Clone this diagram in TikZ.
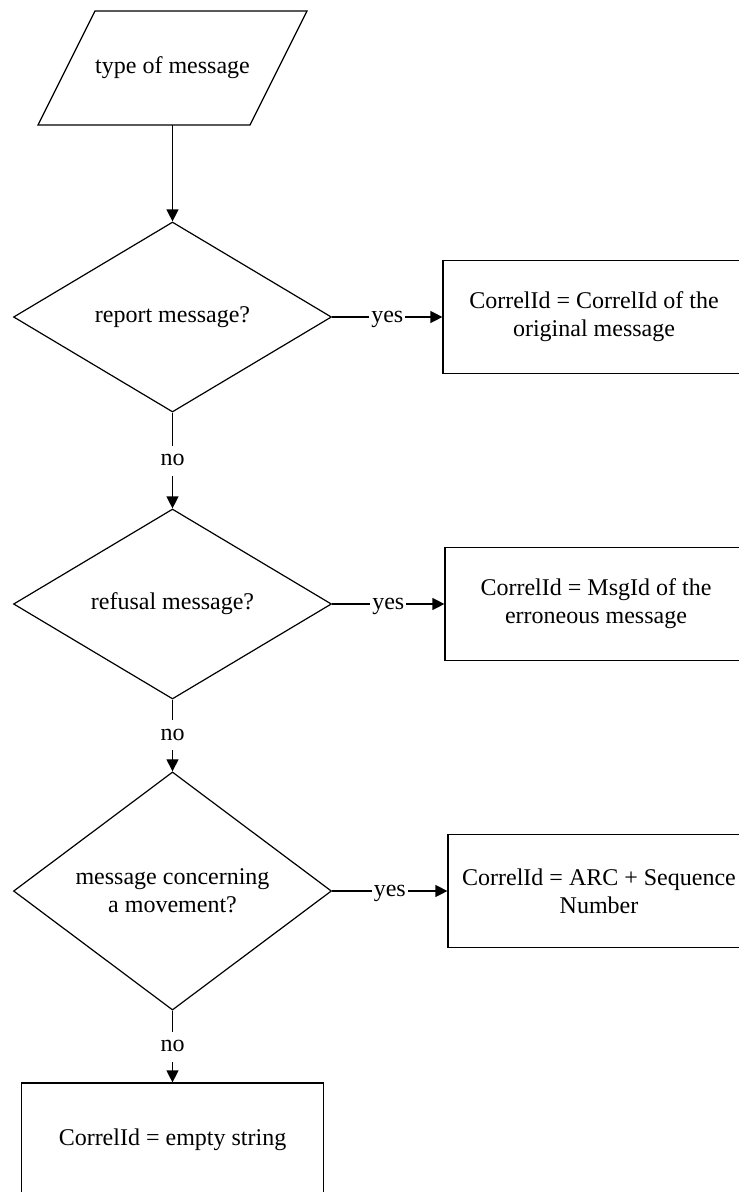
\documentclass[tikz,border=0pt]{standalone}
\usepackage{fontspec}
\setmainfont{Liberation Serif}
\usetikzlibrary{shapes.geometric,arrows.meta}
\begin{document}
\begin{tikzpicture}[x=1pt,y=-1pt,
  every node/.style={font=\fontsize{24}{28}\selectfont, inner sep=0pt},
  iotext/.style={rectangle, minimum width=212pt, minimum height=114pt},
  decision/.style={draw, diamond, minimum width=318pt, minimum height=190pt, align=center, line width=1.2pt},
  process/.style={draw, rectangle, minimum width=302pt, minimum height=113pt, align=center, line width=1.2pt},
  flow/.style={line width=1.2pt, -{Triangle[length=12pt,width=12pt]}},
  lbl/.style={fill=white, inner sep=0pt, text height=16pt, text depth=6pt, inner xsep=2pt, inner ysep=4pt}
]
\useasboundingbox (0,0) rectangle (739,1192);
\node[iotext] (in) at (172.5,68) {type of message};
\draw[line width=1.2pt] (95,11) -- (307,11) -- (250,125) -- (38,125) -- cycle;
\node[decision] (d1) at (172.5,317) {report message?};
\node[decision] (d2) at (172.5,604) {refusal message?};
\node[decision] (d3) at (172.5,891) {message concerning\\a movement?};
\node[process] (b1) at (594,317) {CorrelId = CorrelId of the\\original message};
\node[process] (b2) at (596,604) {CorrelId = MsgId of the\\erroneous message};
\node[process] (b3) at (599,891) {CorrelId = ARC + Sequence\\Number};
\node[process] (b4) at (172.5,1139.5) {CorrelId = empty string};
\draw[flow] (in.south) -- (d1.north);
\draw[flow] (d1.east) -- node[lbl]{yes} (b1.west);
\draw[flow] (d2.east) -- node[lbl]{yes} (b2.west);
\draw[flow] (d3.east) -- node[lbl]{yes} (b3.west);
\draw[flow] (d1.south) -- node[lbl]{no} (d2.north);
\draw[flow] (d2.south) -- node[lbl]{no} (d3.north);
\draw[flow] (d3.south) -- node[lbl]{no} (b4.north);
\end{tikzpicture}
\end{document}
